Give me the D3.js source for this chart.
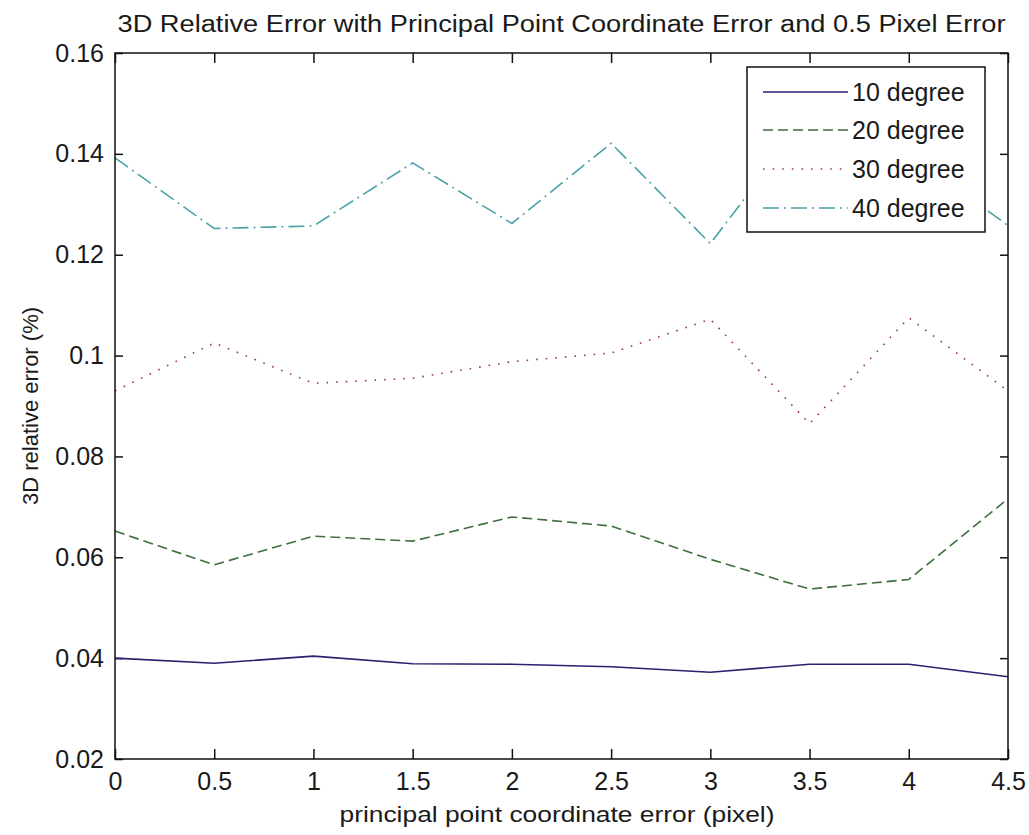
<!DOCTYPE html>
<html>
<head>
<meta charset="utf-8">
<script src="https://cdn.jsdelivr.net/npm/d3@7"></script>
<style>
  html, body { margin: 0; padding: 0; background: #ffffff; }
  svg { display: block; }
  text { font-family: "Liberation Sans", Arial, sans-serif; fill: #1a1a1a; }
</style>
</head>
<body>
<svg id="chart" width="1029" height="835"></svg>
<script>
// ---- data ----
const xValues = [0, 0.5, 1, 1.5, 2, 2.5, 3, 3.5, 4, 4.5];
const seriesNames = ["10 degree", "20 degree", "30 degree", "40 degree"];
const deg10 = [0.0400, 0.0390, 0.0404, 0.0389, 0.0388, 0.0383, 0.0372, 0.0388, 0.0388, 0.0363];
const deg20 = [0.0652, 0.0585, 0.0642, 0.0632, 0.0680, 0.0662, 0.0596, 0.0537, 0.0556, 0.0716];
const deg30 = [0.0930, 0.1025, 0.0945, 0.0955, 0.0988, 0.1005, 0.1072, 0.0865, 0.1075, 0.0930];
const deg40 = [0.1392, 0.1252, 0.1257, 0.1382, 0.1262, 0.1421, 0.1222, 0.1480, 0.1400, 0.1258];
const xTicks = [0, 0.5, 1, 1.5, 2, 2.5, 3, 3.5, 4, 4.5];
const yTicks = [0.02, 0.04, 0.06, 0.08, 0.1, 0.12, 0.14, 0.16];
const titleText = "3D Relative Error with Principal Point Coordinate Error and 0.5 Pixel Error";
const xLabelText = "principal point coordinate error (pixel)";
const yLabelText = "3D relative error (%)";

// ---- styles ----
const colors = ["#25226f", "#3d6f3d", "#9a3c3c", "#4aa2a8"];
const dashes = [null, "10,5", "1.6,8", "16,5,2,5"];

const svg = d3.select("#chart");
const L = 115, R = 1008, T = 53, B = 759;
const x = d3.scaleLinear().domain([0, 4.5]).range([L, R]);
const y = d3.scaleLinear().domain([0.02, 0.16]).range([B, T]);

// axes
const fmtY = d => (d === 0.1 ? "0.1" : d3.format(".2f")(d));
const fmtX = d => String(d);

const gB = svg.append("g").attr("transform", `translate(0,${B})`)
  .call(d3.axisBottom(x).tickValues(xTicks).tickFormat(fmtX).tickSizeInner(-10).tickSizeOuter(0).tickPadding(13));
const gT = svg.append("g").attr("transform", `translate(0,${T})`)
  .call(d3.axisTop(x).tickValues(xTicks).tickFormat("").tickSizeInner(-10).tickSizeOuter(0));
const gLft = svg.append("g").attr("transform", `translate(${L},0)`)
  .call(d3.axisLeft(y).tickValues(yTicks).tickFormat(fmtY).tickSizeInner(-8).tickSizeOuter(0).tickPadding(11));
const gRt = svg.append("g").attr("transform", `translate(${R},0)`)
  .call(d3.axisRight(y).tickValues(yTicks).tickFormat("").tickSizeInner(-8).tickSizeOuter(0));

[gB, gT, gLft, gRt].forEach(g => {
  g.select(".domain").remove();
  g.selectAll(".tick line").attr("stroke", "#111").attr("stroke-width", 1.5);
  g.selectAll(".tick text").style("font-size", "25px").attr("fill", "#1a1a1a");
});

// lines
const allSeries = [deg10, deg20, deg30, deg40];
const line = d3.line().x(d => x(d[0])).y(d => y(d[1]));
const plotG = svg.append("g");
allSeries.forEach((vals, i) => {
  const pts = xValues.map((xv, j) => [xv, vals[j]]);
  plotG.append("path")
    .attr("d", line(pts))
    .attr("fill", "none")
    .attr("stroke", colors[i])
    .attr("stroke-width", 1.6)
    .attr("stroke-dasharray", dashes[i]);
});

// box
svg.append("rect").attr("x", L).attr("y", T).attr("width", R - L).attr("height", B - T)
  .attr("fill", "none").attr("stroke", "#111").attr("stroke-width", 1.5);

// legend
const lg = svg.append("g");
lg.append("rect").attr("x", 747).attr("y", 67).attr("width", 238).attr("height", 165)
  .attr("fill", "#ffffff").attr("stroke", "#111").attr("stroke-width", 1.5);
const rowY = [92, 130, 169, 208];
seriesNames.forEach((name, i) => {
  lg.append("line").attr("x1", 763).attr("x2", 848).attr("y1", rowY[i]).attr("y2", rowY[i])
    .attr("stroke", colors[i]).attr("stroke-width", 1.6).attr("stroke-dasharray", dashes[i]);
  lg.append("text").attr("x", 852).attr("y", rowY[i]).attr("dy", "0.36em")
    .style("font-size", "25px").text(name);
});

// title and labels
svg.append("text").attr("x", (L + R) / 2).attr("y", 32).attr("text-anchor", "middle")
  .style("font-size", "23px").attr("textLength", 888).attr("lengthAdjust", "spacingAndGlyphs")
  .text(titleText);
svg.append("text").attr("x", 557).attr("y", 822).attr("text-anchor", "middle")
  .style("font-size", "22px").attr("textLength", 435).attr("lengthAdjust", "spacingAndGlyphs")
  .text(xLabelText);
svg.append("text").attr("transform", `translate(38,${(T + B) / 2}) rotate(-90)`).attr("text-anchor", "middle")
  .style("font-size", "22px")
  .text(yLabelText);
</script>
</body>
</html>
